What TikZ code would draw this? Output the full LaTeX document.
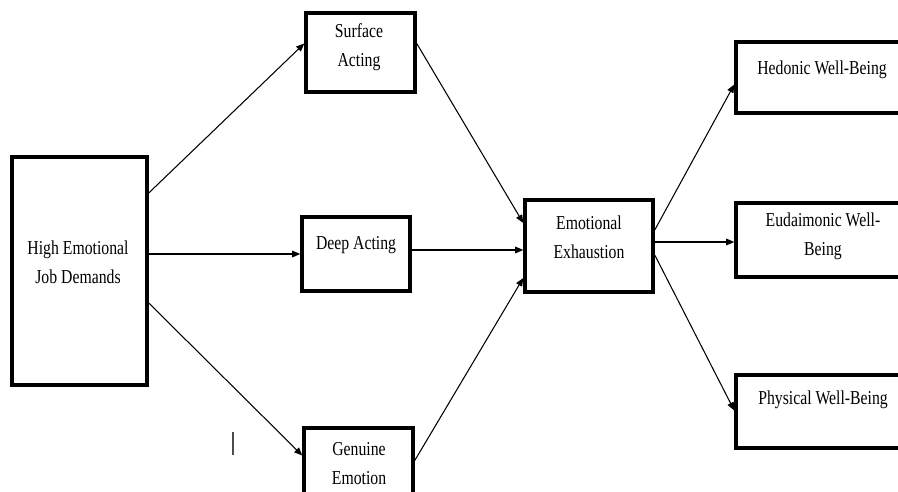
\documentclass[tikz,border=0pt]{standalone}
\usepackage{fontspec}
\setmainfont{Liberation Serif}[FakeStretch=0.8]
\usetikzlibrary{arrows.meta,positioning,calc}

\begin{document}
\begin{tikzpicture}[
  x=0.02cm,y=-0.02cm,
  every node/.style={font=\fontsize{11.2}{16.5}\selectfont},
  varbox/.style={draw,line width=2pt,inner sep=0pt},
  lbl/.style={align=center,inner sep=0pt},
  arr/.style={-{Triangle[length=4.6pt,width=3.8pt]},line width=0.6pt},
]
  \useasboundingbox (0,0) rectangle (898,492);
  \clip (0,0) rectangle (898,492);

  % Antecedent
  \node[varbox,minimum width=2.70cm,minimum height=4.56cm] (jd) at (79.5,271) {};
  \node[lbl] (jdt) at (78,262) {High Emotional\\Job Demands};

  % Emotional labour strategies
  \node[varbox,minimum width=2.18cm,minimum height=1.58cm] (sa) at (360.5,52.5) {};
  \node[lbl] (sat) at (359,47) {Surface\\Acting};

  \node[varbox,minimum width=2.16cm,minimum height=1.48cm] (da) at (356,254) {};
  \node[lbl] (dat) at (356,245) {Deep Acting};

  \node[varbox,minimum width=2.18cm,minimum height=1.50cm] (ge) at (358.5,465.5) {};
  \node[lbl] (get) at (359,464) {Genuine\\Emotion};

  % Mediator
  \node[varbox,minimum width=2.56cm,minimum height=1.84cm] (ee) at (589,246) {};
  \node[lbl] (eet) at (589,237) {Emotional\\Exhaustion};

  % Outcomes
  \node[varbox,minimum width=3.40cm,minimum height=1.42cm] (hw) at (821,77.5) {};
  \node[lbl] (hwt) at (822,70) {Hedonic Well-Being};

  \node[varbox,minimum width=3.40cm,minimum height=1.48cm] (ew) at (821,240) {};
  \node[lbl] (ewt) at (823,236) {Eudaimonic Well-\\Being};

  \node[varbox,minimum width=3.40cm,minimum height=1.46cm] (pw) at (821,411.5) {};
  \node[lbl] (pwt) at (823,400) {Physical Well-Being};

  % Paths
  \draw[arr] ($(jd.east)+(0,-78)$) -- ($(sa.west)+(0,-9)$);
  \draw[arr] ($(jd.east)+(0,-17)$) -- (da.west);
  \draw[arr] ($(jd.east)+(0,32)$) -- ($(ge.west)+(0,-10)$);

  \draw[arr] ($(sa.east)+(0,-9)$) -- ($(ee.west)+(0,-23)$);
  \draw[arr] ($(da.east)+(0,-4)$) -- ($(ee.west)+(0,4)$);
  \draw[arr] ($(ge.east)+(0,-5)$) -- ($(ee.west)+(0,32)$);

  \draw[arr] ($(ee.east)+(0,-16)$) -- ($(hw.west)+(0,7)$);
  \draw[arr] ($(ee.east)+(0,-4)$) -- ($(ew.west)+(0,2)$);
  \draw[arr] ($(ee.east)+(0,9)$) -- ($(pw.west)+(0,-1)$);

  % Cursor mark
  \draw[line width=0.6pt,black!70] (233,432) -- (233,455);
\end{tikzpicture}
\end{document}
